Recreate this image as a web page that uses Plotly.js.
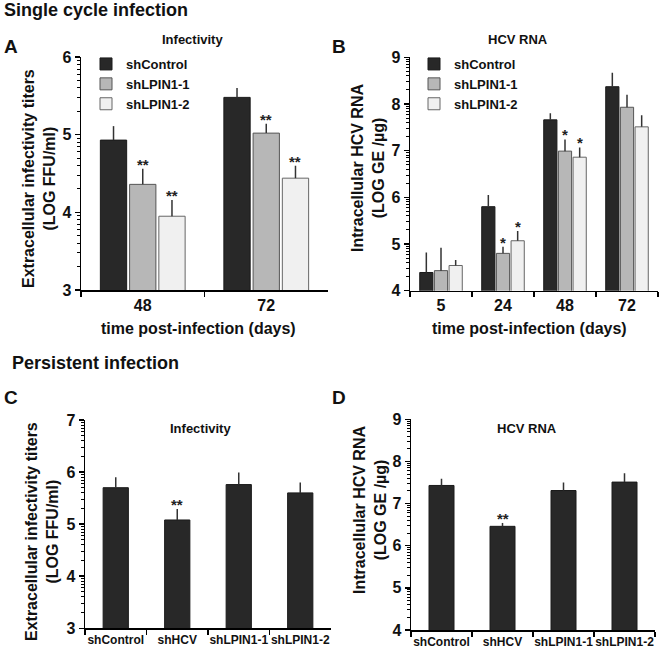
<!DOCTYPE html>
<html>
<head>
<meta charset="utf-8">
<script src="https://cdn.plot.ly/plotly-3.0.1.min.js"></script>
<style>html,body{margin:0;padding:0;background:#fff}#chart{width:664px;height:650px}</style>
</head>
<body>
<div id="chart"></div>
<script>
// ---------- data ----------
const seriesNames = ['shControl', 'shLPIN1-1', 'shLPIN1-2'];

// Panel A: Infectivity, single cycle
const catsA = ['48', '72'];
const aControl = [4.93, 5.48];
const aControlErr = [0.18, 0.12];
const aLpin1 = [4.36, 5.02];
const aLpin1Err = [0.20, 0.12];
const aLpin2 = [3.95, 4.44];
const aLpin2Err = [0.21, 0.16];
const aSigControl = ['', ''];
const aSigLpin1 = ['**', '**'];
const aSigLpin2 = ['**', '**'];

// Panel B: HCV RNA, single cycle
const catsB = ['5', '24', '48', '72'];
const bControl = [4.39, 5.80, 7.66, 8.37];
const bControlErr = [0.43, 0.25, 0.14, 0.30];
const bLpin1 = [4.43, 4.80, 6.99, 7.93];
const bLpin1Err = [0.49, 0.14, 0.25, 0.27];
const bLpin2 = [4.54, 5.07, 6.86, 7.51];
const bLpin2Err = [0.12, 0.21, 0.21, 0.25];
const bSigControl = ['', '', '', ''];
const bSigLpin1 = ['', '*', '*', ''];
const bSigLpin2 = ['', '*', '*', ''];

// Panel C / D: persistent infection
const catsCD = ['shControl', 'shHCV', 'shLPIN1-1', 'shLPIN1-2'];
const cVals = [5.70, 5.08, 5.76, 5.60];
const cErr = [0.20, 0.21, 0.23, 0.20];
const cSig = ['', '**', '', ''];
const dVals = [7.43, 6.46, 7.31, 7.51];
const dErr = [0.16, 0.08, 0.19, 0.21];
const dSig = ['', '**', '', ''];

// ---------- style ----------
const FONT = 'Liberation Sans, Arial, Helvetica, sans-serif';
const barColors = ['#282828', '#b7b7b7', '#f0f0f0'];
const barLines = ['#1a1a1a', '#555555', '#666666'];
const BARGAP = 0.29, BARGROUPGAP = 0.1;
const W = 664, H = 650;
const px = v => v / W, py = v => 1 - v / H;

function barTrace(name, cats, vals, errs, idx, xa, ya, legend, show) {
  return {
    type: 'bar', name: name, x: cats, y: vals,
    xaxis: xa, yaxis: ya, legend: legend, showlegend: show,
    legendgroup: legend + name,
    marker: {color: barColors[idx], line: {color: barLines[idx], width: 1}},
    error_y: {type: 'data', symmetric: false, array: errs, arrayminus: errs.map(() => 0),
              color: '#333', thickness: 1.5, width: 0},
    hoverinfo: 'skip'
  };
}

const data = [
  barTrace(seriesNames[0], catsA, aControl, aControlErr, 0, 'x', 'y', 'legend', true),
  barTrace(seriesNames[1], catsA, aLpin1, aLpin1Err, 1, 'x', 'y', 'legend', true),
  barTrace(seriesNames[2], catsA, aLpin2, aLpin2Err, 2, 'x', 'y', 'legend', true),
  barTrace(seriesNames[0], catsB, bControl, bControlErr, 0, 'x2', 'y2', 'legend2', true),
  barTrace(seriesNames[1], catsB, bLpin1, bLpin1Err, 1, 'x2', 'y2', 'legend2', true),
  barTrace(seriesNames[2], catsB, bLpin2, bLpin2Err, 2, 'x2', 'y2', 'legend2', true),
  Object.assign(barTrace('C', catsCD, cVals, cErr, 0, 'x3', 'y3', 'legend', false), {width: 0.41}),
  Object.assign(barTrace('D', catsCD, dVals, dErr, 0, 'x4', 'y4', 'legend', false), {width: 0.41})
];

function minorVals(lo, hi) {
  const out = [];
  for (let n = lo; n < hi; n++) for (let k = 2; k <= 9; k++) out.push(n + Math.log10(k));
  return out;
}

function yAxis(lo, hi, domain, anchor) {
  return {
    domain: domain, anchor: anchor, range: [lo, hi], dtick: 1, tick0: 0,
    showgrid: false, zeroline: false, showline: true, linecolor: '#000', linewidth: 1.5,
    ticks: 'outside', ticklen: 5, tickwidth: 1.5, tickcolor: '#000',
    tickfont: {family: FONT, size: 16, color: '#111', weight: 'bold'},
    minor: {tickmode: 'array', tickvals: minorVals(lo, hi), ticks: 'outside', ticklen: 3, tickwidth: 1, tickcolor: '#000'},
    fixedrange: true
  };
}
function xAxis(domain, anchor, fsize) {
  return {
    domain: domain, anchor: anchor, type: 'category', tickson: 'boundaries', tickangle: 0,
    showgrid: false, zeroline: false, showline: true, linecolor: '#000', linewidth: 1.5,
    ticks: 'outside', ticklen: 5, tickwidth: 1.5, tickcolor: '#000',
    tickfont: {family: FONT, size: fsize, color: '#111', weight: 'bold'},
    fixedrange: true
  };
}

// significance marks above error bars
const annotations = [];
const slot = (1 - BARGAP) / 3;
function addSig(sigs, vals, errs, offset, xref, yref, size) {
  sigs.forEach((s, i) => {
    if (!s) return;
    annotations.push({xref: xref, yref: yref, x: i + offset, y: vals[i] + errs[i],
      text: s, showarrow: false, yanchor: 'bottom', yshift: -6,
      font: {family: FONT, size: size, color: '#222', weight: 'bold'}});
  });
}
addSig(aSigControl, aControl, aControlErr, -slot, 'x', 'y', 15);
addSig(aSigLpin1, aLpin1, aLpin1Err, 0, 'x', 'y', 15);
addSig(aSigLpin2, aLpin2, aLpin2Err, slot, 'x', 'y', 15);
addSig(bSigControl, bControl, bControlErr, -slot, 'x2', 'y2', 15);
addSig(bSigLpin1, bLpin1, bLpin1Err, 0, 'x2', 'y2', 15);
addSig(bSigLpin2, bLpin2, bLpin2Err, slot, 'x2', 'y2', 15);
addSig(cSig, cVals, cErr, 0, 'x3', 'y3', 15);
addSig(dSig, dVals, dErr, 0, 'x4', 'y4', 15);

function txt(x, y, text, size, opts) {
  annotations.push(Object.assign({xref: 'paper', yref: 'paper', x: px(x), y: py(y), text: text,
    showarrow: false, xanchor: 'center', yanchor: 'middle',
    font: {family: FONT, size: size, color: '#111', weight: 'bold'}}, opts || {}));
}
txt(2, 10, 'Single cycle infection', 18, {xanchor: 'left'});
txt(10, 363, 'Persistent infection', 18, {xanchor: 'left'});
txt(2, 46, 'A', 19, {xanchor: 'left'});
txt(330, 46, 'B', 19, {xanchor: 'left'});
txt(2, 397, 'C', 19, {xanchor: 'left'});
txt(330, 397, 'D', 19, {xanchor: 'left'});
txt(192, 39, 'Infectivity', 13);
txt(518, 39, 'HCV RNA', 13);
txt(200, 428, 'Infectivity', 13);
txt(527, 428, 'HCV RNA', 13);
txt(198, 328, 'time post-infection (days)', 16);
txt(529, 328, 'time post-infection (days)', 16);
txt(39, 179, 'Extracellular infectivity titers<br>(LOG FFU/ml)', 16, {textangle: -90});
txt(368, 168, 'Intracellular HCV RNA<br>(LOG GE /µg)', 16, {textangle: -90});
txt(42, 532, 'Extracellular infectivity titers<br>(LOG FFU/ml)', 16, {textangle: -90});
txt(370, 510, 'Intracellular HCV RNA<br>(LOG GE /µg)', 16, {textangle: -90});

const legendBase = {
  bgcolor: 'rgba(0,0,0,0)', borderwidth: 0, xanchor: 'left', yanchor: 'top',
  font: {family: FONT, size: 13, color: '#111', weight: 'bold'},
  traceorder: 'normal', tracegroupgap: 5, itemclick: false, itemdoubleclick: false
};

const layout = {
  width: W, height: H,
  margin: {l: 0, r: 0, t: 0, b: 0},
  paper_bgcolor: '#fff', plot_bgcolor: '#fff',
  barmode: 'group', bargap: BARGAP, bargroupgap: BARGROUPGAP,
  showlegend: true,
  legend: Object.assign({x: px(86), y: py(49)}, legendBase),
  legend2: Object.assign({x: px(414), y: py(49)}, legendBase),
  xaxis: xAxis([px(81), px(328)], 'y', 16),
  yaxis: yAxis(3, 6, [py(290), py(57)], 'x'),
  xaxis2: xAxis([px(410), px(658)], 'y2', 16),
  yaxis2: yAxis(4, 9, [py(290.7), py(57.3)], 'x2'),
  xaxis3: xAxis([px(85), px(331)], 'y3', 12),
  yaxis3: yAxis(3, 7, [py(628.3), py(420)], 'x3'),
  xaxis4: xAxis([px(411), px(655)], 'y4', 12),
  yaxis4: yAxis(4, 9, [py(630), py(419.3)], 'x4'),
  annotations: annotations
};

Plotly.newPlot('chart', data, layout, {staticPlot: true, displayModeBar: false});
</script>
</body>
</html>
